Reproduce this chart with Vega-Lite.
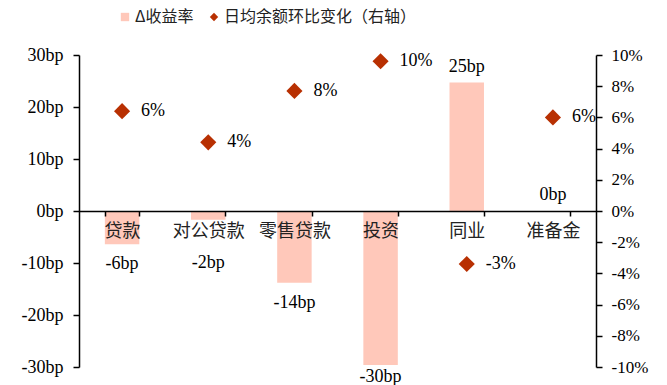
{
  "$schema": "https://vega.github.io/schema/vega-lite/v6.json",
  "width": 517,
  "height": 312,
  "autosize": {"type": "none"},
  "padding": {"left": 79, "top": 55, "right": 71, "bottom": 18},
  "background": "white",
  "config": {
    "view": {"stroke": null},
    "font": "Liberation Serif",
    "axis": {"grid": false, "domainColor": "#000000", "tickColor": "#000000", "labelColor": "#000000", "labelFontSize": 18, "labelFont": "Liberation Serif", "tickSize": 6, "domainWidth": 1.5, "tickWidth": 1.5, "labelOverlap": false}
  },
  "data": {
    "values": [
      {"cat": "贷款", "bp": -6.4, "pct": 6.4, "s1": "Δ收益率", "s2": "日均余额环比变化（右轴）"},
      {"cat": "对公贷款", "bp": -1.7, "pct": 4.4, "s1": "Δ收益率", "s2": "日均余额环比变化（右轴）"},
      {"cat": "零售贷款", "bp": -13.8, "pct": 7.7, "s1": "Δ收益率", "s2": "日均余额环比变化（右轴）"},
      {"cat": "投资", "bp": -29.6, "pct": 9.6, "s1": "Δ收益率", "s2": "日均余额环比变化（右轴）"},
      {"cat": "同业", "bp": 24.7, "pct": -3.4, "s1": "Δ收益率", "s2": "日均余额环比变化（右轴）"},
      {"cat": "准备金", "bp": 0, "pct": 6.0, "s1": "Δ收益率", "s2": "日均余额环比变化（右轴）"}
    ]
  },
  "transform": [
    {"calculate": "toString(round(datum.bp)) + 'bp'", "as": "bpLabel"},
    {"calculate": "toString(round(datum.pct)) + '%'", "as": "pctLabel"}
  ],
  "encoding": {
    "x": {
      "field": "cat", "type": "nominal", "sort": null,
      "scale": {"paddingInner": 0.6, "paddingOuter": 0.3},
      "axis": {"title": null, "orient": "bottom", "offset": -156, "labelAngle": 0, "tickBand": "extent", "tickSize": 5, "labelFont": "Noto Sans CJK SC", "labelFontSize": 18, "labelPadding": 6, "labelColor": "#222222", "zindex": 1}
    }
  },
  "layer": [
    {
      "encoding": {
        "y": {"field": "bp", "type": "quantitative", "scale": {"domain": [-30, 30]},
          "axis": {"title": null, "orient": "left", "values": [-30, -20, -10, 0, 10, 20, 30], "labelExpr": "datum.value + 'bp'", "labelPadding": 10, "labelOverlap": false}}
      },
      "layer": [
        {
          "mark": {"type": "bar", "color": "#FFC8BA"},
          "encoding": {
            "color": {"field": "s1", "type": "nominal",
              "scale": {"domain": ["Δ收益率", "日均余额环比变化（右轴）"], "range": ["#FFC8BA", "#B83002"]},
              "legend": {"title": null, "orient": "none", "direction": "horizontal", "legendX": 38, "legendY": -46,
                "labelFont": "Noto Sans CJK SC", "labelFontSize": 16, "labelColor": "#222222", "symbolSize": 70, "labelLimit": 0,
                "symbolType": "square", "columnPadding": 12, "labelOffset": 2}}
          }
        },
        {
          "transform": [{"filter": "datum.bp >= 0"}],
          "mark": {"type": "text", "baseline": "bottom", "dy": -7, "fontSize": 18, "font": "Liberation Serif", "color": "#000000"},
          "encoding": {"text": {"field": "bpLabel", "type": "nominal"}}
        },
        {
          "transform": [{"filter": "datum.bp < 0 && datum.cat != '对公贷款' && datum.cat != '投资'"}],
          "mark": {"type": "text", "baseline": "top", "dy": 11, "fontSize": 18, "font": "Liberation Serif", "color": "#000000"},
          "encoding": {"text": {"field": "bpLabel", "type": "nominal"}}
        },
        {
          "transform": [{"filter": "datum.cat == '投资'"}],
          "mark": {"type": "text", "baseline": "top", "dy": 3, "fontSize": 18, "font": "Liberation Serif", "color": "#000000"},
          "encoding": {"text": {"field": "bpLabel", "type": "nominal"}}
        },
        {
          "transform": [{"filter": "datum.cat == '对公贷款'"}],
          "mark": {"type": "text", "baseline": "top", "dy": 34, "fontSize": 18, "font": "Liberation Serif", "color": "#000000"},
          "encoding": {"text": {"field": "bpLabel", "type": "nominal"}}
        }
      ]
    },
    {
      "encoding": {
        "y": {"field": "pct", "type": "quantitative", "scale": {"domain": [-10, 10]},
          "axis": {"title": null, "orient": "right", "values": [-10, -8, -6, -4, -2, 0, 2, 4, 6, 8, 10], "labelExpr": "datum.value + '%'", "labelPadding": 9, "labelOverlap": false, "labelBound": false, "labelFontSize": 17}}
      },
      "layer": [
        {
          "mark": {"type": "point", "shape": "diamond", "filled": true, "size": 260, "opacity": 1},
          "encoding": {
            "color": {"field": "s2", "type": "nominal", "legend": null},
            "shape": {"field": "s2", "type": "nominal", "scale": {"domain": ["Δ收益率", "日均余额环比变化（右轴）"], "range": ["square", "diamond"]}, "legend": null}
          }
        },
        {
          "mark": {"type": "text", "align": "left", "baseline": "middle", "dx": 19, "fontSize": 18, "font": "Liberation Serif", "color": "#000000"},
          "encoding": {"text": {"field": "pctLabel", "type": "nominal"}}
        }
      ]
    }
  ],
  "resolve": {"scale": {"y": "independent"}}
}
